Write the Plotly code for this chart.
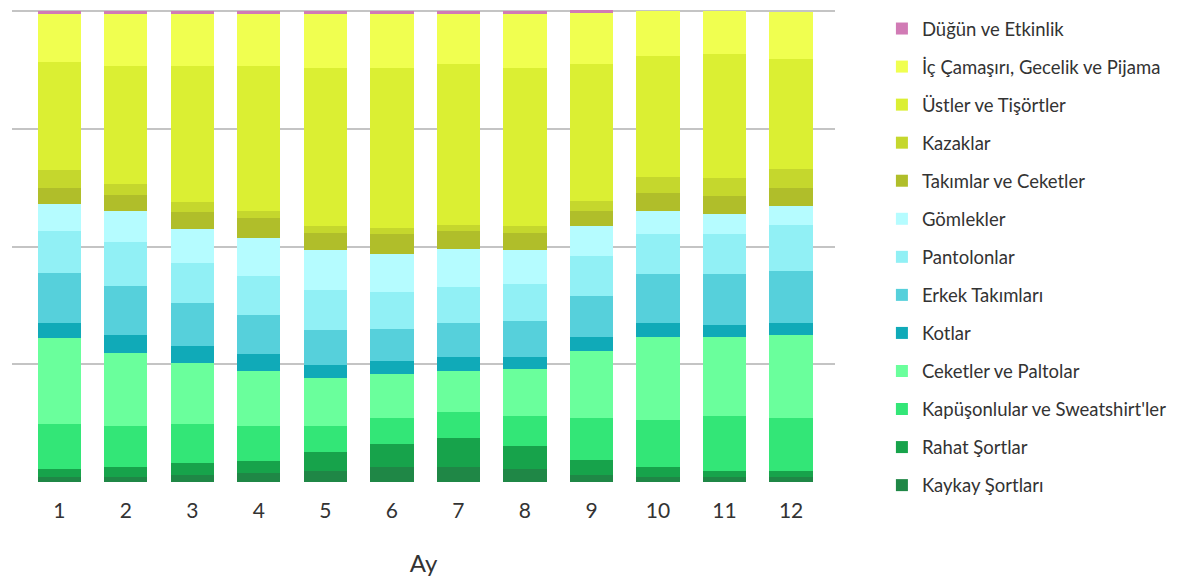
import plotly.graph_objects as go

months = [1, 2, 3, 4, 5, 6, 7, 8, 9, 10, 11, 12]

categories = [
    "Kaykay Şortları",
    "Rahat Şortlar",
    "Kapüşonlular ve Sweatshirt'ler",
    "Ceketler ve Paltolar",
    "Kotlar",
    "Erkek Takımları",
    "Pantolonlar",
    "Gömlekler",
    "Takımlar ve Ceketler",
    "Kazaklar",
    "Üstler ve Tişörtler",
    "İç Çamaşırı, Gecelik ve Pijama",
    "Düğün ve Etkinlik",
]

kaykay_sortlari = [1.1, 1.1, 1.5, 1.9, 2.3, 3.2, 3.2, 2.8, 1.5, 1.1, 1.1, 1.1]
rahat_sortlar = [1.7, 2.1, 2.5, 2.5, 4.0, 4.9, 6.1, 4.9, 3.2, 2.1, 1.3, 1.3]
kapusonlular = [9.5, 8.7, 8.3, 7.4, 5.5, 5.5, 5.5, 6.4, 8.9, 10.0, 11.7, 11.2]
ceketler_paltolar = [18.4, 15.5, 12.9, 11.7, 10.2, 9.3, 8.7, 10.0, 14.2, 17.6, 16.7, 17.6]
kotlar = [3.0, 3.8, 3.8, 3.8, 2.8, 2.8, 3.0, 2.5, 3.0, 3.0, 2.5, 2.5]
erkek_takimlari = [10.8, 10.4, 9.1, 8.1, 7.6, 6.8, 7.2, 7.6, 8.7, 10.4, 10.8, 11.2]
pantolonlar = [8.9, 9.3, 8.5, 8.3, 8.3, 7.8, 7.8, 7.8, 8.5, 8.5, 8.5, 9.7]
gomlekler = [5.7, 6.6, 7.2, 8.1, 8.5, 8.1, 8.1, 7.2, 6.4, 4.9, 4.4, 4.0]
takimlar_ceketler = [3.4, 3.4, 3.6, 4.2, 3.8, 4.2, 3.8, 3.8, 3.2, 3.8, 3.8, 3.8]
kazaklar = [3.8, 2.5, 2.1, 1.5, 1.3, 1.3, 1.3, 1.3, 2.1, 3.4, 3.8, 4.2]
ustler_tisortler = [22.9, 25.0, 28.8, 30.9, 33.7, 34.1, 34.1, 33.7, 29.2, 25.8, 26.3, 23.3]
ic_camasiri = [10.2, 11.0, 11.1, 11.1, 11.5, 11.5, 10.7, 11.5, 10.7, 9.5, 9.1, 10.0]
dugun_etkinlik = [0.6, 0.6, 0.6, 0.6, 0.6, 0.6, 0.6, 0.6, 0.6, 0.0, 0.0, 0.0]

series = [
    kaykay_sortlari, rahat_sortlar, kapusonlular, ceketler_paltolar, kotlar,
    erkek_takimlari, pantolonlar, gomlekler, takimlar_ceketler, kazaklar,
    ustler_tisortler, ic_camasiri, dugun_etkinlik,
]

colors = [
    "#1F8746", "#17A34B", "#33E677", "#6AFF9C", "#10AAB8", "#56D0DB",
    "#91F0F5", "#B5FCFF", "#B0BE2A", "#C5D72D", "#DBEF33", "#F0FF50", "#D17BB5",
]

fig = go.Figure()
n = len(categories)
for i, (name, vals, col) in enumerate(zip(categories, series, colors)):
    fig.add_trace(go.Bar(
        x=months, y=vals, name=name, marker_color=col,
        marker_line_width=0, legendgroup=name, legendrank=(n - i) * 10,
    ))

fig.update_layout(
    barmode="stack",
    bargap=0.35,
    width=1189, height=577,
    margin=dict(l=4, r=362, t=2, b=103),
    plot_bgcolor="white", paper_bgcolor="white",
    font=dict(family="Lato, 'Open Sans', sans-serif", color="#333333"),
    legend=dict(
        traceorder="grouped",
        x=1.057, xanchor="left", y=1.0, yanchor="top",
        font=dict(size=18.5, color="#333333"),
        tracegroupgap=11,
        maxheight=570,
    ),
    xaxis=dict(
        range=[0.29, 12.66],
        tickvals=months, ticktext=[str(m) for m in months],
        tickfont=dict(size=21, color="#333333"),
        showgrid=False, zeroline=False, showline=False,
        ticks="", ticklabelstandoff=14,
        title=dict(text="Ay", font=dict(size=24, color="#333333"), standoff=34),
    ),
    yaxis=dict(
        range=[0, 100.3], tickvals=[0, 25, 50, 75, 100],
        showticklabels=False, showgrid=True, gridcolor="#C4C4C4", gridwidth=2,
        zeroline=False, showline=False,
    ),
)

fig.write_html("out.html")
